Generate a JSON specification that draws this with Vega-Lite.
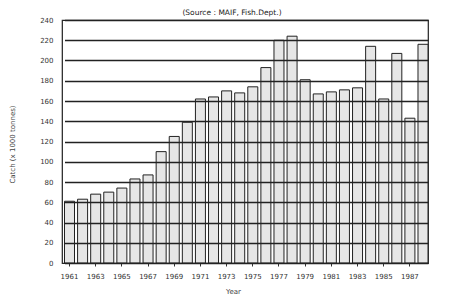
{
  "$schema": "https://vega.github.io/schema/vega-lite/v6.json",
  "width": 366,
  "height": 243,
  "autosize": {"type": "none"},
  "padding": {"left": 62, "top": 20, "right": 22, "bottom": 41},
  "background": "white",
  "title": {
    "text": "(Source : MAIF, Fish.Dept.)",
    "font": "DejaVu Sans",
    "fontSize": 7.5,
    "fontWeight": "normal",
    "color": "#222",
    "anchor": "middle",
    "dx": -13,
    "offset": 0
  },
  "config": {
    "view": {"stroke": "#222", "strokeWidth": 1.2},
    "axis": {
      "labelFont": "DejaVu Sans",
      "titleFont": "DejaVu Sans",
      "labelFontSize": 7,
      "titleFontSize": 7,
      "titleFontWeight": "normal",
      "labelColor": "#333",
      "titleColor": "#444",
      "domainColor": "#333",
      "tickColor": "#333"
    }
  },
  "data": {
    "values": [
      {"year": 1961, "catch": 61},
      {"year": 1962, "catch": 63},
      {"year": 1963, "catch": 68},
      {"year": 1964, "catch": 70},
      {"year": 1965, "catch": 74},
      {"year": 1966, "catch": 83},
      {"year": 1967, "catch": 87},
      {"year": 1968, "catch": 110},
      {"year": 1969, "catch": 125},
      {"year": 1970, "catch": 139},
      {"year": 1971, "catch": 162},
      {"year": 1972, "catch": 164},
      {"year": 1973, "catch": 170},
      {"year": 1974, "catch": 168},
      {"year": 1975, "catch": 174},
      {"year": 1976, "catch": 193},
      {"year": 1977, "catch": 220},
      {"year": 1978, "catch": 224},
      {"year": 1979, "catch": 181},
      {"year": 1980, "catch": 167},
      {"year": 1981, "catch": 169},
      {"year": 1982, "catch": 171},
      {"year": 1983, "catch": 173},
      {"year": 1984, "catch": 214},
      {"year": 1985, "catch": 162},
      {"year": 1986, "catch": 207},
      {"year": 1987, "catch": 143},
      {"year": 1988, "catch": 216}
    ]
  },
  "mark": {"type": "bar", "fill": "#e6e6e6", "stroke": "#222", "strokeWidth": 1},
  "encoding": {
    "x": {
      "field": "year",
      "type": "ordinal",
      "scale": {"range": [2.5, 366], "paddingInner": 0.236, "paddingOuter": 0},
      "axis": {
        "title": "Year",
        "titleX": 171,
        "titleY": 24,
        "titleAnchor": null,
        "values": [1961, 1963, 1965, 1967, 1969, 1971, 1973, 1975, 1977, 1979, 1981, 1983, 1985, 1987],
        "labelAngle": 0,
        "labelPadding": 6,
        "tickSize": 3,
        "domain": true
      }
    },
    "y": {
      "field": "catch",
      "type": "quantitative",
      "scale": {"domain": [0, 240]},
      "axis": {
        "title": "Catch (x 1000 tonnes)",
        "titleX": -50,
        "titleY": 124,
        "titleAngle": -90,
        "titleAlign": "center",
        "titleBaseline": "middle",
        "values": [0, 20, 40, 60, 80, 100, 120, 140, 160, 180, 200, 220, 240],
        "tickSize": 0,
        "labelPadding": 9,
        "grid": true,
        "gridColor": "#222",
        "gridWidth": 1.3,
        "gridOpacity": 1,
        "zindex": 1
      }
    }
  }
}
